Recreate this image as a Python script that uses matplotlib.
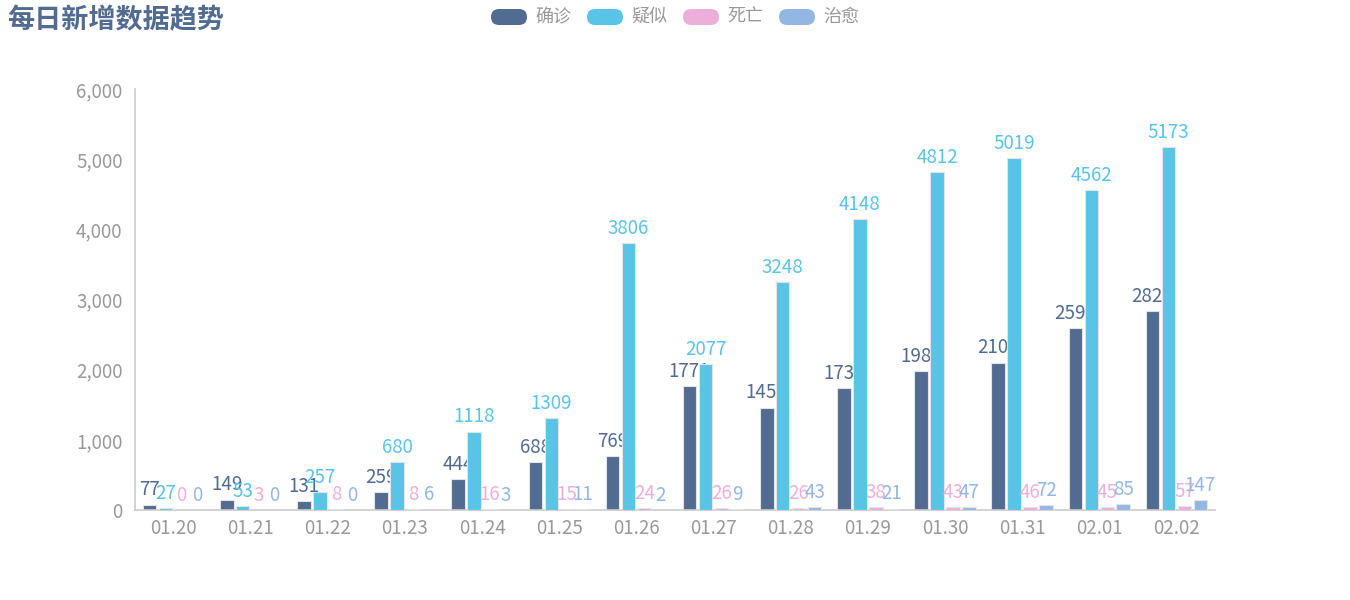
import matplotlib.pyplot as plt
from matplotlib.patches import FancyBboxPatch
from matplotlib.ticker import FuncFormatter
import numpy as np

plt.rcParams['font.family'] = ['Noto Sans CJK SC', 'DejaVu Sans']

dates = ['01.20', '01.21', '01.22', '01.23', '01.24', '01.25', '01.26',
         '01.27', '01.28', '01.29', '01.30', '01.31', '02.01', '02.02']
confirmed = [77, 149, 131, 259, 444, 688, 769, 1771, 1459, 1737, 1982, 2102, 2590, 2829]
suspected = [27, 53, 257, 680, 1118, 1309, 3806, 2077, 3248, 4148, 4812, 5019, 4562, 5173]
dead = [0, 3, 8, 8, 16, 15, 24, 26, 26, 38, 43, 46, 45, 57]
cured = [0, 0, 0, 6, 3, 11, 2, 9, 43, 21, 47, 72, 85, 147]

names = ['确诊', '疑似', '死亡', '治愈']
colors = ['#516b91', '#59c4e6', '#edafda', '#93b7e3']
series = [confirmed, suspected, dead, cured]

fig = plt.figure(figsize=(13.5, 6), dpi=100)
ax = fig.add_axes([0.1, 0.15, 0.8, 0.7017])

x = np.arange(len(dates))
step = 0.207
width = 0.175
for i, (vals, c) in enumerate(zip(series, colors)):
    pos = x + (i - 1.5) * step
    ax.bar(pos, vals, width, color=c, edgecolor='#e4e4e4', linewidth=0.8,
           zorder=2 + 2 * i)
    # later bars are drawn over earlier labels, as in the original
    for px, v in zip(pos, vals):
        ax.annotate(str(v), (px, v), xytext=(0, 3), textcoords='offset points',
                    ha='center', va='bottom', fontsize=13.5, color=c,
                    zorder=2.5 + 2 * i)

ax.set_xlim(-0.5, len(dates) - 0.5)
ax.set_ylim(0, 6000)
ax.set_yticks(range(0, 6001, 1000))
ax.yaxis.set_major_formatter(FuncFormatter(lambda v, p: f'{int(v):,}'))
ax.set_xticks(x)
ax.set_xticklabels(dates)
ax.tick_params(axis='both', length=0, labelsize=13.5, colors='#999999')
ax.tick_params(axis='x', pad=6)
ax.tick_params(axis='y', pad=9)

for s in ['top', 'right']:
    ax.spines[s].set_visible(False)
for s in ['left', 'bottom']:
    ax.spines[s].set_color('#cccccc')
    ax.spines[s].set_linewidth(1.2)

fig.text(7 / 1350, 1 - 20 / 600, '每日新增数据趋势', fontsize=19.5, fontweight='bold',
         color='#516b91', ha='left', va='center')

# legend drawn by hand: rounded swatches + labels
lx = 491
for name, c in zip(names, colors):
    fig.patches.append(FancyBboxPatch((lx / 1350, 1 - 25 / 600), 36 / 1350, 16 / 600,
                                      boxstyle='round,pad=0,rounding_size=0.006',
                                      transform=fig.transFigure, facecolor=c,
                                      edgecolor='none', mutation_aspect=2.25))
    fig.text((lx + 44) / 1350, 1 - 17 / 600, name, fontsize=13, color='#999999',
             ha='left', va='center')
    lx += 96

fig.savefig('out.png', dpi=100)
